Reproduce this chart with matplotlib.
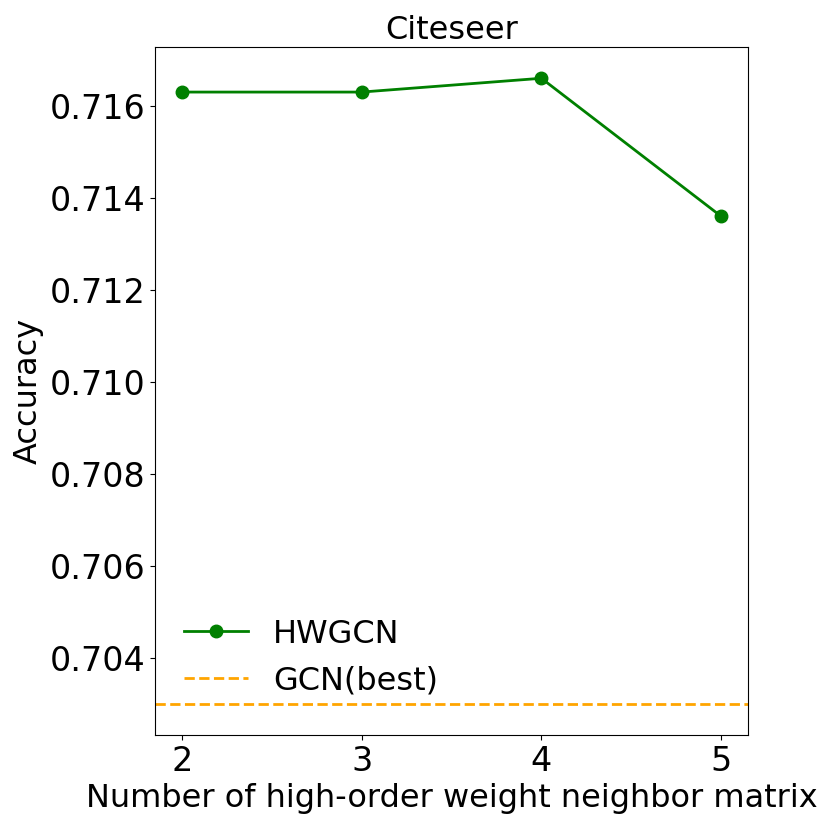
import matplotlib
matplotlib.use('Agg')
import matplotlib.pyplot as plt

# Data
orders = [2, 3, 4, 5]
hwgcn_acc = [0.7163, 0.7163, 0.7166, 0.7136]
gcn_best = 0.703

fig = plt.figure(figsize=(8.3, 8.3), dpi=100)
ax = fig.add_axes([155 / 830, 95 / 830, 593 / 830, 688 / 830])

ax.plot(orders, hwgcn_acc, color='green', marker='o', markersize=9, linewidth=2, label='HWGCN')
ax.axhline(gcn_best, color='orange', linestyle='--', linewidth=2, label='GCN(best)')
# keep the baseline inside the autoscaled y range
ax.plot([orders[0]], [gcn_best], alpha=0)

ax.set_xticks(orders)
ax.set_yticks([0.704, 0.706, 0.708, 0.710, 0.712, 0.714, 0.716])
ax.tick_params(labelsize=24)
ax.set_title('Citeseer', fontsize=23)
ax.set_xlabel('Number of high-order weight neighbor matrix', fontsize=23)
ax.set_ylabel('Accuracy', fontsize=23)
ax.legend(loc='lower left', fontsize=23, frameon=False, bbox_to_anchor=(0.0, 0.014))

fig.savefig('out.png', dpi=100)
